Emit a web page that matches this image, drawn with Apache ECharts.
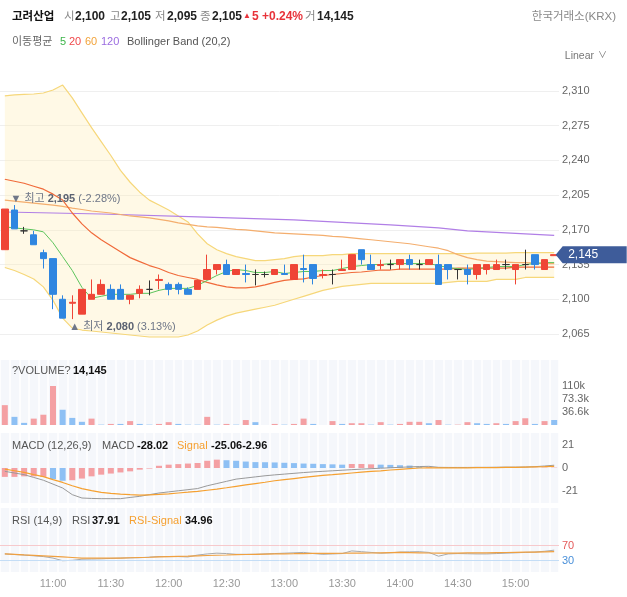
<!DOCTYPE html>
<html><head><meta charset="utf-8">
<script src="https://cdn.jsdelivr.net/npm/echarts@6/dist/echarts.min.js"></script>
<style>html,body{margin:0;padding:0;background:#fff}#c{width:627px;height:597px}</style>
</head><body><div id="c"></div>
<script>
const times=['10:35','10:40','10:45','10:50','10:55','11:00','11:05','11:10','11:15','11:20','11:25','11:30','11:35','11:40','11:45','11:50','11:55','12:00','12:05','12:10','12:15','12:20','12:25','12:30','12:35','12:40','12:45','12:50','12:55','13:00','13:05','13:10','13:15','13:20','13:25','13:30','13:35','13:40','13:45','13:50','13:55','14:00','14:05','14:10','14:15','14:20','14:25','14:30','14:35','14:40','14:45','14:50','14:55','15:00','15:05','15:10','15:15','15:20'];
const open=[2150,2190,2169,2165,2147,2141,2100,2096,2085,2100,2105,2110,2110,2100,2106,2110,2119,2115,2115,2110,2110,2120,2130,2135,2125,2126,2125,2125,2125,2126,2120,2131,2135,2124,2125,2129,2130,2150,2135,2134,2135,2135,2140,2135,2135,2135,2135,2130,2130,2125,2130,2130,2135,2130,2135,2145,2130,2144];
const close=[2191,2171,2169,2155,2141,2105,2081,2097,2110,2105,2115,2100,2100,2104,2110,2110,2120,2110,2110,2105,2119,2130,2135,2125,2130,2125,2125,2125,2130,2125,2135,2130,2121,2125,2125,2130,2145,2140,2130,2135,2135,2140,2135,2135,2140,2115,2130,2130,2125,2135,2135,2135,2135,2135,2135,2135,2140,2145];
const low=[2150,2171,2166,2155,2131,2090,2081,2080,2085,2100,2105,2100,2100,2095,2101,2104,2110,2104,2105,2105,2110,2120,2125,2125,2125,2117,2114,2122,2125,2125,2120,2117,2115,2121,2115,2129,2130,2135,2130,2130,2130,2130,2130,2130,2135,2115,2120,2120,2115,2120,2125,2130,2130,2115,2130,2130,2130,2144];
const high=[2191,2195,2173,2169,2150,2141,2104,2104,2110,2120,2120,2115,2115,2104,2114,2119,2125,2117,2117,2112,2119,2145,2135,2140,2130,2135,2130,2128,2130,2135,2135,2145,2135,2130,2130,2140,2145,2150,2145,2140,2140,2140,2145,2140,2140,2145,2135,2130,2135,2135,2135,2140,2140,2135,2150,2145,2140,2145];
const ma5=[2173,2172,2171,2170,2168,2157,2143,2129,2112,2101,2103,2105,2105,2105,2106,2106,2109,2111,2111,2111,2114,2119,2124,2128,2130,2129,2127,2127,2128,2126,2127,2128,2128,2129,2129,2131,2133,2134,2135,2135,2136,2136,2136,2136,2136,2134,2132,2131,2130,2131,2132,2133,2133,2133,2135,2136,2137,2137];
const ma20=[2221,2219,2217,2214,2211,2206,2200,2187,2176,2167,2160,2154,2148,2142,2138,2134,2131,2127,2124,2122,2120,2117,2114.5,2112.5,2111.5,2111.5,2112.5,2114.5,2117,2119,2120,2120.5,2122.5,2124,2125,2126,2127,2127.5,2128.5,2129.5,2129.5,2130.5,2130.5,2130.5,2130.5,2130.5,2130.5,2131.5,2131.5,2131.5,2131.5,2131.5,2131.5,2132.5,2132.5,2132.5,2132.5,2132.5];
const ma60=[2200,2199,2198,2197,2196,2195,2193.6,2192,2190.5,2189,2188,2187,2185.5,2184,2183,2182,2180.5,2179,2177,2175.5,2174,2173,2172.5,2171.5,2170.5,2170,2169,2168,2167,2166.5,2166,2165.5,2165,2164.5,2163.5,2163,2162,2161,2160,2159,2158,2157,2156,2154.5,2153,2151.5,2149,2145,2142,2140,2138.5,2138,2137.5,2137,2137,2136.5,2136,2136];
const ma120Times=['10:35','11:25','12:15','13:05','13:55','14:20','14:35','14:45','15:00','15:20'];
const ma120=[2188,2186,2183,2180,2175,2172,2169,2168,2166.5,2164.5];
const bbUpper=[2305,2306,2306.5,2307,2308,2311,2316,2303,2288,2273,2259,2245,2230,2218,2208,2200,2195,2190,2184,2178,2166,2156,2150,2146,2143,2141,2139,2139,2140,2141,2143,2144,2144,2144,2145,2145,2146,2146,2146,2146,2146,2146,2146,2146,2146,2146,2146,2146,2146,2146.5,2146.5,2146.5,2146.5,2147,2147,2147,2147,2147];
const bbLower=[2132,2129,2125,2120.5,2112.5,2099,2081,2071,2069,2068,2067,2066,2065,2064,2063,2062,2062,2062,2062,2064,2068,2074,2079,2083,2086,2088,2090,2092,2094,2097,2100,2103,2106,2109,2111,2113,2114,2115,2116,2116,2116,2116,2116,2116,2116,2116,2117,2118,2118,2118,2118,2120,2120,2120,2122,2122,2122,2122];
const volume=[56000,23000,6000,18000,29000,110000,43000,20000,9000,18000,1000,3000,3000,11000,3000,1000,3000,8000,3000,1000,1000,23000,1000,3000,1000,14000,8000,0,3000,1000,3000,18000,3000,0,11000,3000,5000,5000,1000,8000,1000,3000,9000,9000,5000,14000,1000,1000,8000,5000,3000,5000,3000,11000,19000,3000,11000,14145];
const volDir=[1,-1,-1,1,1,1,-1,-1,-1,1,-1,1,-1,1,-1,-1,1,1,-1,-1,-1,1,-1,1,-1,1,-1,1,1,-1,1,1,-1,-1,1,-1,1,1,-1,1,-1,1,1,1,-1,1,-1,1,1,-1,-1,1,-1,1,1,-1,1,-1];
const macdHist=[-8,-8,-7.5,-7.5,-8,-10,-11.5,-11,-9.5,-7.5,-6,-5,-4,-3,-1.5,-0.5,2,3,3.5,4,4.5,6.5,7.5,7,6.5,5.8,5.3,5.2,5,4.7,4.4,4,3.8,3.5,3.3,3,3.6,3.6,3.3,3,2.8,2.5,2.2,1.2,0.5,0.3,0.2,0.2,0.2,0.2,0.2,0.2,0.2,0.2,0.2,0.2,0.3,0.3];
const macdDir=[1,1,1,1,1,-1,-1,1,1,1,1,1,1,1,1,1,1,1,1,1,1,1,1,-1,-1,-1,-1,-1,-1,-1,-1,-1,-1,-1,-1,-1,1,1,1,-1,-1,-1,-1,-1,1,1,1,1,1,1,1,1,1,1,1,1,1,1];
const macdLine=[-3,-4.5,-6,-8.5,-11,-14.5,-18,-24,-27,-27.4,-27.6,-27.6,-27.6,-26.5,-25.5,-24,-22.5,-21.5,-20.5,-19.5,-18.5,-16,-14,-12,-10,-9,-8,-7,-6.2,-5.5,-4.8,-4.1,-3.5,-3,-2.5,-2,-1.5,-1,-0.6,-0.2,0.2,0.6,1,1.3,1.5,0.6,0.5,0.5,0.5,0.6,0.6,0.7,0.8,0.8,0.9,1.2,1.8,2.5];
const macdSignal=[-1,-2.5,-4,-6,-7.8,-10.5,-13,-16,-18.5,-20.3,-22,-22.8,-23.5,-24,-24.4,-24.1,-23.8,-23.2,-22.5,-21.8,-21,-20,-19,-17.8,-16.5,-15.2,-14,-12.8,-11.5,-10.5,-9.5,-8.5,-7.5,-6.7,-6,-5.2,-4.5,-3.8,-3.1,-2.5,-1.8,-1.2,-0.6,0,0.1,0.1,0.2,0.2,0.2,0.3,0.3,0.4,0.5,0.6,0.8,1,1.2,1.5];
const rsi=[48,46.5,45,43,41,37,30,31,34,34.5,35,36,37,37.5,38,39.5,41,41,41,40,45,48,50,49,47,47,47,48,49,50,51,52,49,47,48,49,56,54,52,50,51,53,53.5,54,52,42,48,49,48.5,48,48,49,50,51,52,53,55,58];
const rsiSignal=[48,46.8,45.5,44.3,43,41.5,40,38.5,37,37,37,37,37,37.8,38.5,39.2,40,40.8,41.5,42.2,43,43.8,44.5,45.2,46,46.5,47,47.5,48,48.3,48.6,49,49.3,49.6,49.7,49.8,49.9,50,50.5,51,51.5,52,51.5,51,50.5,50,50.2,50.4,50.6,50.8,51,51.4,51.8,52.2,52.6,53,53.5,54];

const FONT='"Liberation Sans","Noto Sans CJK KR",sans-serif';
const chart=echarts.init(document.getElementById('c'));
const L=-3,R=68;
const candleData=times.map((t,i)=>[open[i],close[i],low[i],high[i]]);
const bbDiff=bbUpper.map((u,i)=>u-bbLower[i]);
const RED='#ef4536',BLUE='#2f86e0';
function xAx(gi,striped,labels){
  return {type:'category',gridIndex:gi,data:times,boundaryGap:true,
    axisLine:{show:false},axisTick:{show:false},
    axisLabel:labels?{show:true,color:'#999',fontSize:11,fontFamily:FONT,margin:6,
      interval:(i,v)=>/:(00|30)$/.test(v)}:{show:false},
    splitArea:{show:striped,interval:0,areaStyle:{color:['#f5f7fb']}},
    splitLine:{show:striped,interval:0,lineStyle:{color:'#ffffff',width:1.5}}};
}
function T(x,y,text,color,size,weight,align){
  return {type:'text',x:x,y:y,z:10,style:{text:text,fill:color,
    font:(weight||'normal')+' '+size+'px '+FONT,
    textAlign:align||'left',align:align||'left',textVerticalAlign:'middle',verticalAlign:'middle'}};
}
const lbl={color:'#666',fontSize:11,fontFamily:FONT};
const hiLoLabel=(txt,off)=>({show:true,position:'right',distance:0,offset:off,formatter:txt,
  color:'#6f7788',fontSize:11,fontFamily:FONT,rich:{v:{fontWeight:'bold',color:'#5b6272',fontSize:11,fontFamily:FONT}}});
const option={
  animation:false,
  grid:[
    {left:L,right:R,top:91,height:243},
    {left:L,right:R,top:360,height:65},
    {left:L,right:R,top:433,height:70},
    {left:L,right:R,top:508,height:64}
  ],
  xAxis:[xAx(0,false,false),xAx(1,true,false),xAx(2,true,false),xAx(3,true,true)],
  yAxis:[
    {gridIndex:0,position:'right',min:2065,max:2310,interval:35,axisLine:{show:false},axisTick:{show:false},
     axisLabel:Object.assign({margin:3,formatter:v=>v.toLocaleString('en-US')},lbl),splitLine:{lineStyle:{color:'#efefef'}}},
    {gridIndex:1,position:'right',min:0,max:36666.6667*5,interval:36666.6667,axisLine:{show:false},axisTick:{show:false},
     axisLabel:Object.assign({margin:3,formatter:v=>{const k=v/1000;if(k<1||k>111)return '';return (Math.floor(k*10+1e-6)/10)+'k';}},lbl),splitLine:{show:false}},
    {gridIndex:2,position:'right',min:-31.5,max:31.5,interval:10.5,axisLine:{show:false},axisTick:{show:false},
     axisLabel:Object.assign({margin:3,formatter:v=>{if(Math.abs(v)<0.01)return '0';if(Math.abs(Math.abs(v)-21)<0.01)return String(Math.round(v));return '';}},lbl),splitLine:{show:false}},
    {gridIndex:3,position:'right',min:0,max:170,interval:10,axisLine:{show:false},axisTick:{show:false},
     axisLabel:{margin:3,fontSize:11,fontFamily:FONT,color:(v)=>(Number(v)===70?'#e45a5a':'#4a90d9'),
       formatter:v=>(v===70||v===30)?String(v):''},splitLine:{show:false}}
  ],
  graphic:[
    T(12,17,'고려산업','#111',11.5,'bold'),
    T(64,17,'시','#888',11.5),T(75,17,'2,100','#222',12,'bold'),
    T(110,17,'고','#888',11.5),T(121,17,'2,105','#222',12,'bold'),
    T(155,17,'저','#888',11.5),T(167,17,'2,095','#222',12,'bold'),
    T(200,17,'종','#888',11.5),T(212,17,'2,105','#222',12,'bold'),
    T(243,16,'▲','#e8333a',8),T(252,17,'5 +0.24%','#e8333a',12,'bold'),
    T(305,17,'거','#888',11.5),T(317,17,'14,145','#222',12,'bold'),
    T(616,17,'한국거래소(KRX)','#888',11.5,'normal','right'),
    T(12,42,'이동평균','#666',11),T(60,42,'5','#3db54a',11),T(69,42,'20','#f0484a',11),
    T(85,42,'60','#f2a33a',11),T(101,42,'120','#9b6ce0',11),T(127,42,'Bollinger Band (20,2)','#555',11),
    T(594,56,'Linear','#777',10.5,'normal','right'),T(598,56,'∨','#777',9),
    T(12,371,'?VOLUME?','#555',11),T(73,371,'14,145','#111',11,'bold'),
    T(12,446,'MACD (12,26,9)','#555',11),T(102,446,'MACD','#555',11),T(137,446,'-28.02','#111',11,'bold'),
    T(177,446,'Signal','#f5a030',11),T(211,446,'-25.06-2.96','#111',11,'bold'),
    T(12,521,'RSI (14,9)','#555',11),T(72,521,'RSI','#555',11),T(92,521,'37.91','#111',11,'bold'),
    T(129,521,'RSI-Signal','#f5a030',11),T(185,521,'34.96','#111',11,'bold')
  ],
  series:[
    {type:'line',xAxisIndex:0,yAxisIndex:0,data:bbLower,stack:'bb',symbol:'none',clip:false,z:1,
     lineStyle:{color:'#f6d77a',width:1.2}},
    {type:'line',xAxisIndex:0,yAxisIndex:0,data:bbDiff,stack:'bb',symbol:'none',clip:false,z:1,
     lineStyle:{color:'#f6d77a',width:1.2},areaStyle:{color:'rgba(255,238,185,0.5)'}},
    {type:'line',xAxisIndex:0,yAxisIndex:0,data:ma120Times.map((t,i)=>[t,ma120[i]]),symbol:'none',z:2,
     lineStyle:{color:'#b17fe6',width:1.2}},
    {type:'line',xAxisIndex:0,yAxisIndex:0,data:ma60,symbol:'none',z:2,lineStyle:{color:'#f4ae6e',width:1.2}},
    {type:'line',xAxisIndex:0,yAxisIndex:0,data:ma20,symbol:'none',z:2,lineStyle:{color:'#f06a3a',width:1.2}},
    {type:'line',xAxisIndex:0,yAxisIndex:0,data:ma5,symbol:'none',z:2,lineStyle:{color:'#5cc45c',width:1}},
    {type:'candlestick',xAxisIndex:0,yAxisIndex:0,data:candleData,barWidth:7,clip:false,z:3,
     itemStyle:{color:RED,color0:BLUE,borderColor:RED,borderColor0:BLUE,borderColorDoji:'#333',borderWidth:1},
     markPoint:{symbol:'circle',symbolSize:0,silent:true,z:20,
       data:[
         {coord:['10:40',2195],label:hiLoLabel('▼ 최고 {v|2,195} (-2.28%)',[-4,-6])},
         {coord:['11:10',2080],label:hiLoLabel('▲ 최저 {v|2,080} (3.13%)',[-3,8])},
         {coord:['15:20',2145],symbol:'path://M0,8.5L7,0L71,0L71,17L7,17Z',symbolSize:[71,17],symbolKeepAspect:false,
          symbolOffset:[37,0],itemStyle:{color:'#3e5c9a'},
          label:{show:true,position:'inside',offset:[-8,0],formatter:'2,145',color:'#fff',fontSize:12,fontFamily:FONT}}
       ]}},
    {type:'bar',xAxisIndex:1,yAxisIndex:1,barWidth:6,
     data:volume.map((v,i)=>({value:v,itemStyle:{color:volDir[i]>0?'#f4a0a3':'#8ec0f4'}}))},
    {type:'bar',xAxisIndex:2,yAxisIndex:2,barWidth:6,
     data:macdHist.map((v,i)=>({value:v,itemStyle:{color:macdDir[i]>0?'#f4a0a3':'#8ec0f4'}}))},
    {type:'line',xAxisIndex:2,yAxisIndex:2,data:macdLine,symbol:'none',lineStyle:{color:'#9a9a9a',width:1}},
    {type:'line',xAxisIndex:2,yAxisIndex:2,data:macdSignal,symbol:'none',lineStyle:{color:'#f5a030',width:1.2}},
    {type:'line',xAxisIndex:3,yAxisIndex:3,data:rsi,symbol:'none',lineStyle:{color:'#aaaaaa',width:1},
     markLine:{silent:true,symbol:'none',label:{show:false},lineStyle:{type:'solid',width:1},
       data:[{yAxis:70,lineStyle:{color:'#f6c9cc'}},{yAxis:30,lineStyle:{color:'#c4ddf6'}}]}},
    {type:'line',xAxisIndex:3,yAxisIndex:3,data:rsiSignal,symbol:'none',lineStyle:{color:'#f0a040',width:1.2}}
  ]
};
chart.setOption(option);
</script></body></html>
